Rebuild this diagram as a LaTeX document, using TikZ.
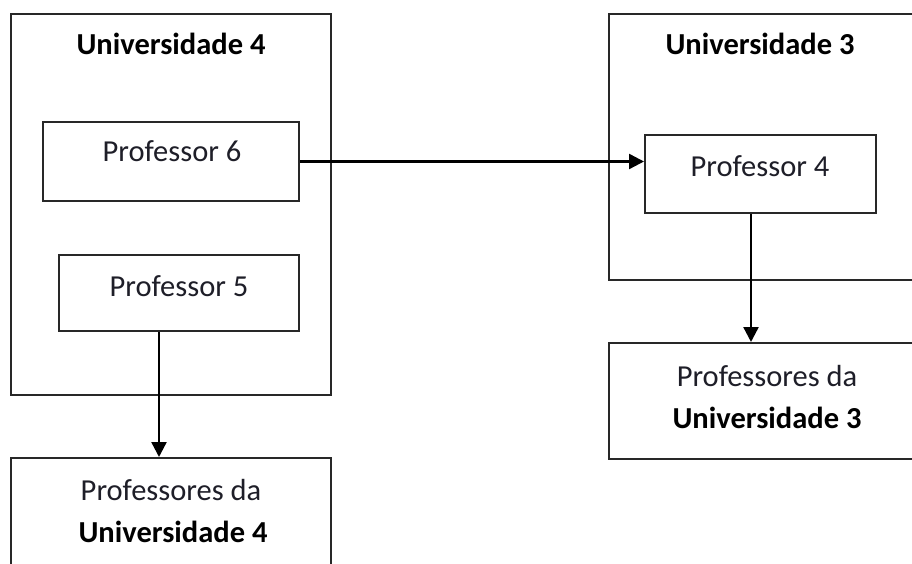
\documentclass[tikz,border=0pt]{standalone}
\usepackage{fontspec}
\setmainfont{Carlito}
\usetikzlibrary{arrows.meta}
\definecolor{linec}{RGB}{40,40,40}
\definecolor{textc}{RGB}{30,30,40}
\begin{document}
\begin{tikzpicture}[x=1pt,y=-1pt,
  box/.style={draw=linec, line width=2pt, inner sep=0pt},
  txt/.style={anchor=base, inner sep=0pt, font=\fontsize{30.5}{36}\selectfont, text=textc},
  btxt/.style={anchor=base, inner sep=0pt, font=\fontsize{30.5}{36}\selectfont\bfseries, text=black},
  arr/.style={draw=black, line width=2.4pt, -{Triangle[length=15pt,width=15pt]}}]
\useasboundingbox (0,0) rectangle (912,564);
\clip (0,0) rectangle (912,564);
\fill[white] (0,0) rectangle (912,564);
% boxes
\node[box, minimum width=320pt, minimum height=381pt] (u4) at (171,204.5) {};
\node[box, minimum width=256pt, minimum height=79pt] (p6) at (171,161.5) {};
\node[box, minimum width=240pt, minimum height=76pt] (p5) at (179,293) {};
\node[box, minimum width=320pt, minimum height=162pt] (u4p) at (171,539) {};
\node[box, minimum width=331pt, minimum height=266pt] (u3) at (774.5,147) {};
\node[box, minimum width=231pt, minimum height=78pt] (p4) at (760.5,174) {};
\node[box, minimum width=331pt, minimum height=116pt] (u3p) at (774.5,401) {};
% texts
\node[btxt] (t-u4) at (171,55) {Universidade 4};
\node[txt] (t-p6) at (172,162) {Professor 6};
\node[txt] (t-p5) at (179,296) {Professor 5};
\node[txt] (t-u4p1) at (171,500) {Professores da};
\node[btxt] (t-u4p2) at (173,542) {Universidade 4};
\node[btxt] (t-u3) at (760,55) {Universidade 3};
\node[txt] (t-p4) at (760,176) {Professor 4};
\node[txt] (t-u3p1) at (767,386) {Professores da};
\node[btxt] (t-u3p2) at (767,428) {Universidade 3};
% connectors
\draw[arr] (p6.east) -- (p6.east -| p4.west);
\draw[arr] ([xshift=-20pt]p5.south) -- ([xshift=-20pt]p5.south |- u4p.north);
\draw[arr] ([xshift=-9.5pt]p4.south) -- ([xshift=-9.5pt]p4.south |- u3p.north);
\end{tikzpicture}
\end{document}
